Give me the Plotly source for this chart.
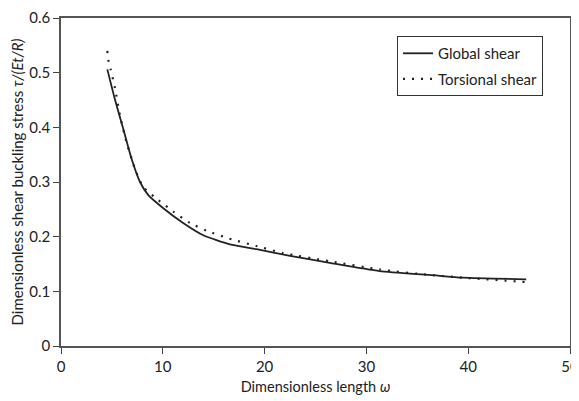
import plotly.graph_objects as go

global_x = [4.55, 5.3, 6.12, 6.94, 7.76, 8.58, 10.05, 12.0, 13.98, 16.6, 19.2, 22.5, 26.4, 31.3, 36.2, 39.5, 45.7]
global_y = [0.506, 0.451, 0.397, 0.342, 0.300, 0.276, 0.252, 0.225, 0.2025, 0.186, 0.177, 0.165, 0.152, 0.137, 0.130, 0.125, 0.122]

tors_x = [4.55, 4.65, 4.88, 5.3, 5.8, 6.45, 7.27, 8.08, 9.56, 11.03, 12.67, 14.3, 16.77, 19.2, 21.8, 26.4, 31.3, 36.2, 39.5, 45.7]
tors_y = [0.540, 0.523, 0.506, 0.472, 0.421, 0.372, 0.324, 0.291, 0.267, 0.246, 0.225, 0.211, 0.195, 0.183, 0.170, 0.155, 0.140, 0.130, 0.125, 0.117]

x_ticks = [0, 10, 20, 30, 40, 50]
y_ticks = [0, 0.1, 0.2, 0.3, 0.4, 0.5, 0.6]
y_tick_labels = ["0", "0.1", "0.2", "0.3", "0.4", "0.5", "0.6"]

font = "Lato, Open Sans, sans-serif"
fig = go.Figure()
fig.add_trace(go.Scatter(x=global_x, y=global_y, mode="lines", name="Global shear", legendgroup="g",
                         line=dict(color="#222", width=1.8, shape="spline", smoothing=0.6)))
fig.add_trace(go.Scatter(x=tors_x, y=tors_y, mode="lines", name="Torsional shear", legendgroup="t",
                         line=dict(color="#222", width=2.2, dash="2px,7px", shape="spline", smoothing=0.6)))

# page body has an 8px margin; figure sized so the plot lands where the reference has it
fig.update_layout(
    width=571, height=393,
    margin=dict(l=53, r=9, t=10, b=55),
    paper_bgcolor="white", plot_bgcolor="white",
    font=dict(family=font, size=15, color="#222"),
    showlegend=True,
    legend=dict(x=0.947, y=0.945, xanchor="right", yanchor="top",
                bordercolor="#333", borderwidth=1, bgcolor="white",
                font=dict(size=15), tracegroupgap=3, itemwidth=30),
    xaxis=dict(range=[0, 50], tickvals=x_ticks, ticks="outside", ticklen=6, tickcolor="#444",
               showline=True, linecolor="#555", linewidth=1.5, mirror=True, showgrid=False,
               zeroline=False, automargin=False, ticklabeloverflow="allow",
               title=dict(text="Dimensionless length <i>ω</i>", standoff=8, font=dict(size=14.5))),
    yaxis=dict(range=[0, 0.6], tickvals=y_ticks, ticktext=y_tick_labels, ticks="outside", ticklen=6,
               tickcolor="#444", showline=True, linecolor="#555", linewidth=1.5, mirror=True,
               showgrid=False, zeroline=False, automargin=False, ticklabeloverflow="allow",
               title=dict(text="Dimensionless shear buckling stress <i>τ/(Et/R)</i>", standoff=11,
                          font=dict(size=15))),
)
fig.write_html("out.html")
